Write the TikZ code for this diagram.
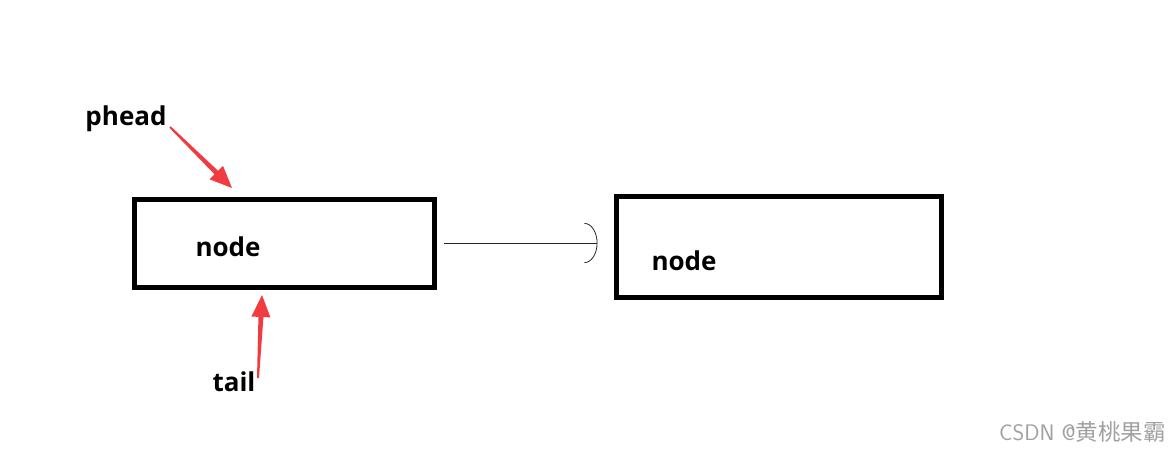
\documentclass[tikz,border=0pt]{standalone}
\usepackage{fontspec}
\setmainfont{Open Sans}
\newfontfamily\cjkfont{Noto Sans CJK SC}
\usepackage{xcolor}
\usetikzlibrary{arrows.meta, positioning, calc}
\definecolor{cred}{RGB}{240, 60, 64}
\definecolor{cmark}{RGB}{160, 160, 160}

% tapered red pointer from #1 to the tip #2
\newcommand{\redpointer}[2]{%
  \fill[cred] ($(#1)!1pt!90:(#2)$) -- ($($(#2)!22pt!(#1)$)!2.5pt!90:(#2)$)
    -- ($($(#2)!22pt!(#1)$)!9.5pt!90:(#2)$) -- (#2)
    -- ($($(#2)!22pt!(#1)$)!9.5pt!-90:(#2)$) -- ($($(#2)!22pt!(#1)$)!2.5pt!-90:(#2)$)
    -- ($(#1)!1pt!-90:(#2)$) -- cycle;}

\tikzset{
  cell/.style={draw, line width=5pt, minimum width=300pt, minimum height=88pt, inner sep=0pt},
  celltext/.style={font=\fontsize{26}{30}\selectfont\bfseries, inner sep=0pt},
  tag/.style={font=\fontsize{26}{30}\selectfont\bfseries, inner sep=0pt},
  link/.style={line width=0.9pt, black!85, -{Arc Barb[length=13pt, width=40pt, line width=0.8pt]}}
}

\begin{document}
\begin{tikzpicture}[x=1pt, y=-1pt]
  \useasboundingbox (0,0) rectangle (1176,455);

  % list cells
  \node[cell] (box1) at (284, 243) {};
  \node[cell, minimum width=325pt, minimum height=101pt] (box2) at (778.5, 246.5) {};
  \node[celltext] (text1) at (228, 247) {node};
  \node[celltext] (text2) at (684, 261) {node};

  % next pointer
  \draw[link, shorten <=7.5pt, shorten >=16pt] (box1.east) -- (box1.east -| box2.west);

  % labels with red pointers
  \node[tag] (phead) at (126, 119) {phead};
  \node[tag] (tail) at (234, 382) {tail};
  \coordinate (pheadfrom) at (170, 127);
  \coordinate (pheadtip) at (232, 188);
  \coordinate (tailfrom) at (258, 378);
  \coordinate (tailtip) at (262, 295);
  \redpointer{pheadfrom}{pheadtip}
  \redpointer{tailfrom}{tailtip}

  % watermark
  \node[text=cmark, font=\fontsize{22.5}{26}\selectfont, anchor=east, inner sep=0pt] (mark) at (1166, 432)
    {\sffamily CSDN @\cjkfont 黄桃果霸};
\end{tikzpicture}
\end{document}
